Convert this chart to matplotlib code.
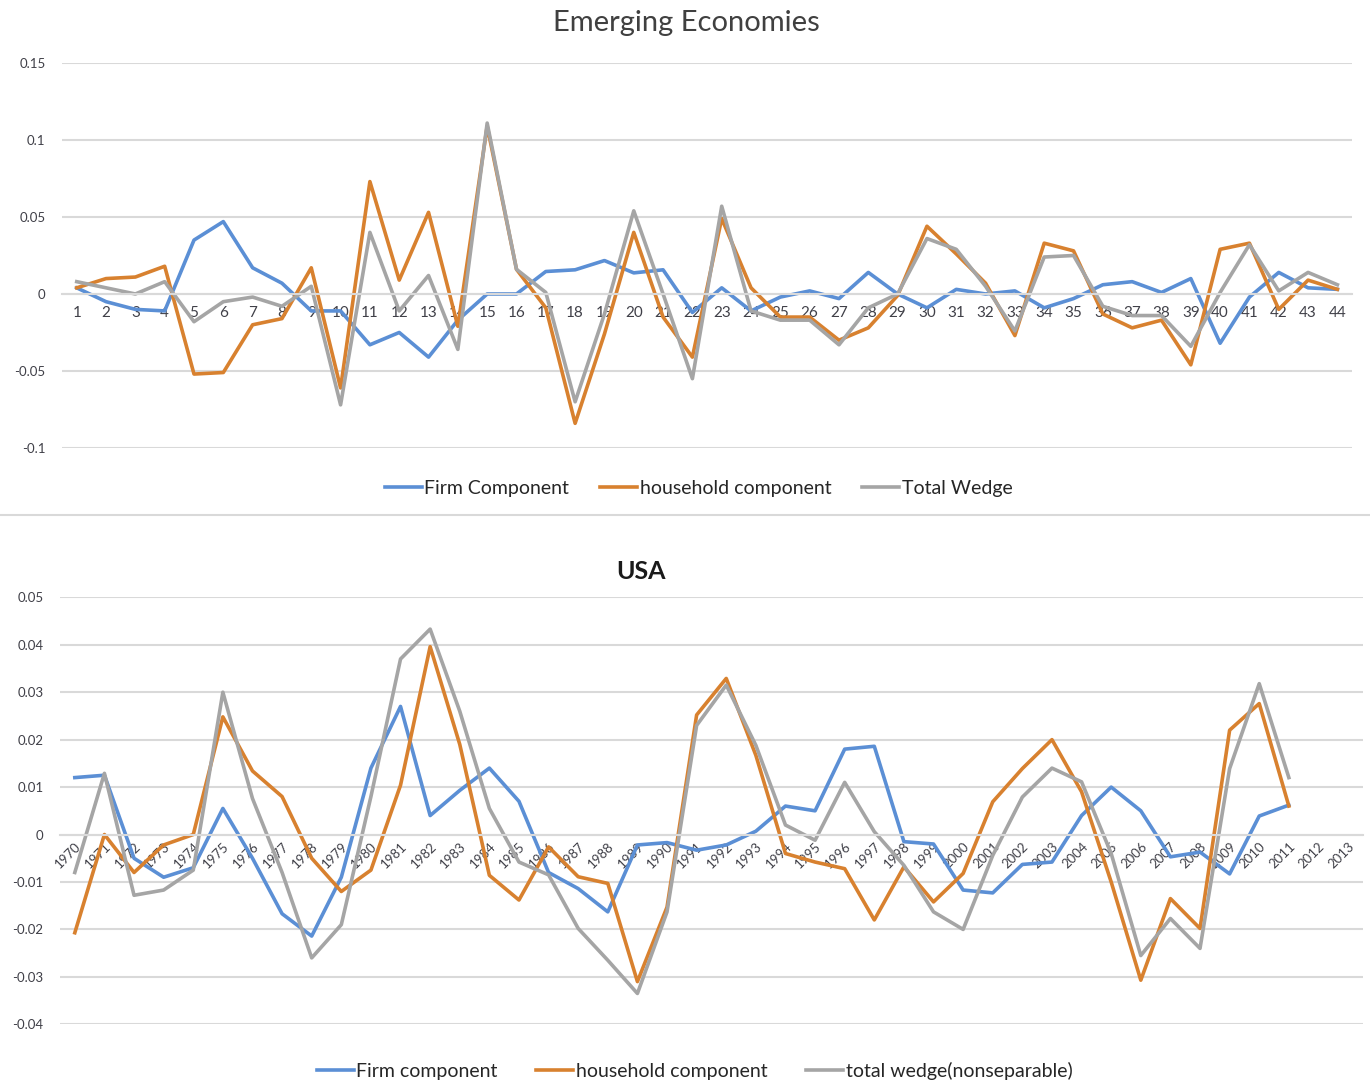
import matplotlib.pyplot as plt
from matplotlib.lines import Line2D

plt.rcParams['font.family'] = ['Lato', 'DejaVu Sans']

# Emerging economies panel, periods 1..44
periods = list(range(1, 45))
em_firm = [0.004, -0.005, -0.010, -0.011, 0.035, 0.047, 0.017, 0.007, -0.011, -0.011,
           -0.033, -0.025, -0.041, -0.017, 0.000, 0.000, 0.0146, 0.0157, 0.0217, 0.0137,
           0.0157, -0.012, 0.004, -0.011, -0.002, 0.002, -0.003, 0.014, 0.000, -0.009,
           0.003, 0.000, 0.002, -0.009, -0.003, 0.006, 0.008, 0.001, 0.010, -0.032,
           -0.002, 0.014, 0.004, 0.003]
em_house = [0.004, 0.010, 0.011, 0.018, -0.052, -0.051, -0.020, -0.016, 0.017, -0.061,
            0.073, 0.009, 0.053, -0.021, 0.109, 0.016, -0.009, -0.084, -0.026, 0.040,
            -0.015, -0.041, 0.049, 0.004, -0.015, -0.015, -0.030, -0.022, -0.001, 0.044,
            0.026, 0.007, -0.027, 0.033, 0.028, -0.013, -0.022, -0.017, -0.046, 0.029,
            0.033, -0.010, 0.009, 0.003]
em_total = [0.008, 0.004, 0.000, 0.008, -0.018, -0.005, -0.002, -0.008, 0.005, -0.072,
            0.040, -0.011, 0.012, -0.036, 0.111, 0.016, 0.001, -0.070, -0.013, 0.054,
            0.000, -0.055, 0.057, -0.011, -0.017, -0.017, -0.033, -0.009, 0.000, 0.036,
            0.029, 0.005, -0.024, 0.024, 0.025, -0.008, -0.014, -0.014, -0.034, 0.001,
            0.032, 0.002, 0.014, 0.006]

# USA panel, 1970..2013 (data ends 2011)
years = list(range(1970, 2014))
us_firm = [0.012, 0.0125, -0.005, -0.009, -0.007, 0.0055, -0.005, -0.0167, -0.0214, -0.009,
           0.014, 0.027, 0.004, 0.0093, 0.014, 0.007, -0.008, -0.0114, -0.0163, -0.0022,
           -0.0017, -0.0033, -0.0022, 0.0007, 0.006, 0.005, 0.018, 0.0186, -0.0015, -0.002,
           -0.0117, -0.0123, -0.0063, -0.0058, 0.004, 0.010, 0.005, -0.0047, -0.0037, -0.0083,
           0.0039, 0.0062]
us_house = [-0.0207, 0.000, -0.008, -0.0022, 0.000, 0.0248, 0.0134, 0.008, -0.005, -0.012,
            -0.0075, 0.0104, 0.0396, 0.019, -0.0086, -0.0138, -0.0026, -0.0089, -0.0103, -0.031,
            -0.0153, 0.0252, 0.0329, 0.0167, -0.004, -0.0058, -0.0072, -0.018, -0.0068, -0.0142,
            -0.0082, 0.0069, 0.0139, 0.020, 0.009, -0.010, -0.0307, -0.0135, -0.0198, 0.022,
            0.0276, 0.006]
us_total = [-0.008, 0.0129, -0.0128, -0.0117, -0.0075, 0.030, 0.0076, -0.008, -0.026, -0.019,
            0.008, 0.037, 0.0433, 0.026, 0.0055, -0.0058, -0.0085, -0.0198, -0.0265, -0.0335,
            -0.0163, 0.023, 0.0315, 0.0188, 0.002, -0.0012, 0.011, 0.0006, -0.0065, -0.0163,
            -0.020, -0.0044, 0.0079, 0.014, 0.0111, -0.004, -0.0255, -0.0177, -0.024, 0.0139,
            0.0318, 0.012]

blue = '#5B8FD5'
orange = '#D8812F'
gray = '#A5A5A5'
grid_c = '#D9D9D9'
txt_c = '#404048'
lw = 2.6

fig = plt.figure(figsize=(13.7, 10.86), dpi=100)


def style_axes(ax, n):
    ax.set_xlim(-0.5, n - 0.5)
    for s in ['top', 'right', 'left']:
        ax.spines[s].set_visible(False)
    # category labels sit on the zero line, like the spreadsheet chart
    ax.spines['bottom'].set_position(('data', 0))
    ax.spines['bottom'].set_color(grid_c)
    ax.spines['bottom'].set_linewidth(1.5)
    ax.grid(axis='y', color=grid_c, linewidth=1.5)
    ax.set_axisbelow(True)
    ax.tick_params(axis='both', length=0, colors=txt_c)
    ax.tick_params(axis='y', labelsize=9.5, pad=12)


# ---- top panel
ax1 = fig.add_axes([0.0453, 0.5875, 0.9416, 0.3545])
x1 = list(range(len(periods)))
ax1.plot(x1, em_firm, color=blue, lw=lw)
ax1.plot(x1, em_house, color=orange, lw=lw)
ax1.plot(x1, em_total, color=gray, lw=lw)
style_axes(ax1, len(periods))
ax1.set_ylim(-0.1, 0.15)
ax1.set_yticks([-0.1, -0.05, 0, 0.05, 0.1, 0.15])
ax1.set_yticklabels(['-0.1', '-0.05', '0', '0.05', '0.1', '0.15'])
ax1.set_xticks(x1)
ax1.set_xticklabels([str(p) for p in periods])
ax1.tick_params(axis='x', labelsize=11, pad=9)

fig.text(0.501, 0.979, 'Emerging Economies', ha='center', va='center',
         fontsize=21, color='#404040')
h1 = [Line2D([], [], color=c, lw=lw) for c in (blue, orange, gray)]
fig.legend(h1, ['Firm Component', 'household component', 'Total Wedge'],
           loc='center', bbox_to_anchor=(0.51, 0.5506), ncol=3, frameon=False,
           fontsize=14, handlelength=1.9, handletextpad=0.12, columnspacing=1.6,
           labelcolor='#262626')

fig.add_artist(Line2D([0, 1], [1 - 515 / 1086] * 2, color='#D9D9D9', lw=1.5))

# ---- bottom panel
ax2 = fig.add_axes([0.0438, 0.0568, 0.951, 0.3932])
x2 = list(range(len(years)))
ax2.plot(x2[:len(us_firm)], us_firm, color=blue, lw=lw)
ax2.plot(x2[:len(us_house)], us_house, color=orange, lw=lw)
ax2.plot(x2[:len(us_total)], us_total, color=gray, lw=lw)
style_axes(ax2, len(years))
ax2.set_ylim(-0.04, 0.05)
yt = [-0.04, -0.03, -0.02, -0.01, 0, 0.01, 0.02, 0.03, 0.04, 0.05]
ax2.set_yticks(yt)
ax2.set_yticklabels(['0' if v == 0 else f'{v:.2f}' for v in yt])
ax2.set_xticks(x2)
ax2.set_xticklabels([str(y) for y in years], rotation=45, ha='right',
                    rotation_mode='anchor', fontsize=9.5)
ax2.tick_params(axis='x', pad=4)

fig.text(0.468, 0.4733, 'USA', ha='center', va='center', fontsize=18,
         fontweight='bold', color='#1a1a1a')
fig.legend(h1, ['Firm component', 'household component', 'total wedge(nonseparable)'],
           loc='center', bbox_to_anchor=(0.507, 0.0138), ncol=3, frameon=False,
           fontsize=14, handlelength=1.9, handletextpad=0.12, columnspacing=2.0,
           labelcolor='#262626')

fig.savefig('out.png', dpi=100)
